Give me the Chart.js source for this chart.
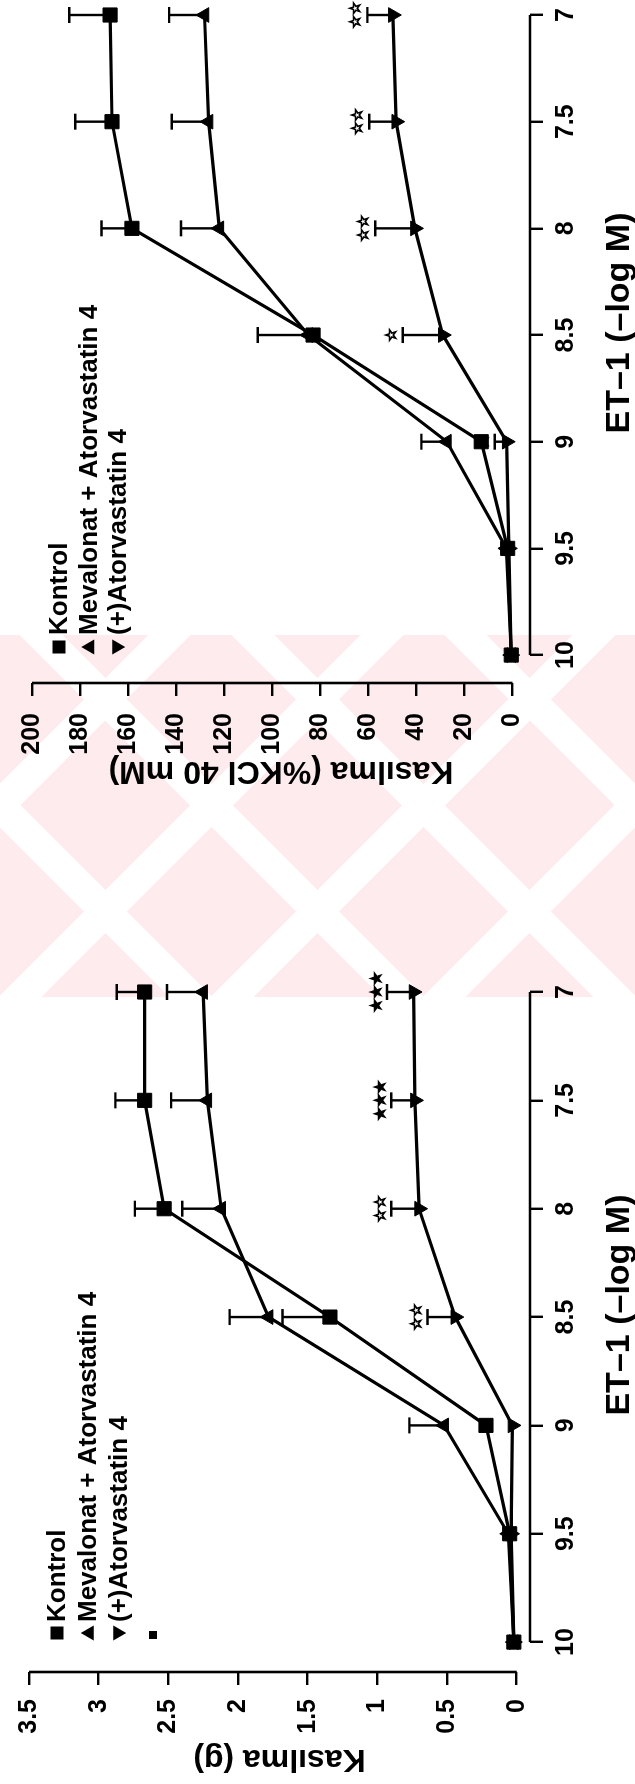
<!DOCTYPE html>
<html>
<head>
<meta charset="utf-8">
<script src="https://cdn.jsdelivr.net/npm/chart.js@4.4.1/dist/chart.umd.min.js"></script>
<style>
html,body{margin:0;padding:0;background:#fff;}
body{width:635px;height:1784px;position:relative;overflow:hidden;}
.wm{position:absolute;left:0;top:635px;width:635px;height:362px;z-index:0;
  background:
   repeating-linear-gradient(45deg, rgba(255,255,255,0) 0 120px, #fff 120px 150px),
   repeating-linear-gradient(-45deg, rgba(255,255,255,0) 0 120px, #fff 120px 150px),
   #fdebee;}
.wrap{position:absolute;left:0;top:0;transform-origin:0 0;z-index:1;}
</style>
</head>
<body>
<div class="wm"></div>
<div class="wrap" style="width:830px;height:635px;transform:translate(0px,830px) rotate(-90deg)"><canvas id="cK" width="830" height="635"></canvas></div>
<div class="wrap" style="width:954px;height:635px;transform:translate(0px,1784px) rotate(-90deg)"><canvas id="cG" width="954" height="635"></canvas></div>
<script>
// ---------- data ----------
const categories = [10, 9.5, 9, 8.5, 8, 7.5, 7];
const categoryTickLabels = ['10', '9.5', '9', '8.5', '8', '7.5', '7'];
const seriesNames = ['Kontrol', 'Mevalonat + Atorvastatin 4', '(+)Atorvastatin 4'];
const xTitle = 'ET–1 (–log M)';

// panel drawn lower on the page: Kasılma (g)
const gTitle = 'Kasılma (g)';
const gTicks = [0, 0.5, 1, 1.5, 2, 2.5, 3, 3.5];
const gKontrol      = [0.02, 0.05, 0.22, 1.34, 2.53, 2.67, 2.67];
const gKontrolSem   = [0, 0, 0, 0.34, 0.21, 0.21, 0.20];
const gMevalonat    = [0.02, 0.06, 0.52, 1.78, 2.12, 2.22, 2.25];
const gMevalonatSem = [0, 0, 0.25, 0.28, 0.28, 0.26, 0.26];
const gAtorva       = [0.02, 0.04, 0.03, 0.44, 0.70, 0.73, 0.74];
const gAtorvaSem    = [0, 0, 0, 0.20, 0.20, 0.17, 0.19];
const gStars        = ['', '', '', '☆☆', '☆☆', '★★★', '★★★'];

// panel drawn upper on the page: Kasılma (%KCl 40 mM)
const kTitle = 'Kasılma (%KCl 40 mM)';
const kTicks = [0, 20, 40, 60, 80, 100, 120, 140, 160, 180, 200];
const kTickLabels = ['0', '20', '40', '60', '80', '100', '120', '140', '160', '180', '200'];
const kKontrol      = [0.5, 2, 13, 83, 158.4, 166.7, 167.5];
const kKontrolSem   = [0, 0, 0, 23, 12.7, 15.3, 17];
const kMevalonat    = [0.5, 2.5, 27.3, 85, 122, 126.5, 128.2];
const kMevalonatSem = [0, 0, 10.6, 0, 16, 15.3, 14.7];
const kAtorva       = [0.5, 1.5, 2.4, 29, 40.6, 48.4, 49.8];
const kAtorvaSem    = [0, 0, 5, 16.7, 16.5, 11.2, 10.6];
const kStars        = ['', '', '★', '☆', '☆☆', '☆☆', '☆☆'];

// ---------- rendering ----------
Chart.defaults.font.family = "'Liberation Sans', Arial, Helvetica, sans-serif";
Chart.defaults.font.weight = 'bold';
Chart.defaults.font.size = 25;
Chart.defaults.color = '#000';

function drawSym(ctx, style, x, y, s) {
  ctx.beginPath();
  if (style === 'rect') {
    ctx.rect(x - s / 2, y - s / 2, s, s);
  } else if (style === 'up') {
    ctx.moveTo(x, y - s * 0.55); ctx.lineTo(x + s * 0.58, y + s * 0.45); ctx.lineTo(x - s * 0.58, y + s * 0.45); ctx.closePath();
  } else {
    ctx.moveTo(x, y + s * 0.55); ctx.lineTo(x + s * 0.58, y - s * 0.45); ctx.lineTo(x - s * 0.58, y - s * 0.45); ctx.closePath();
  }
  ctx.fill();
}

function decorPlugin(p) {
  return {
    id: 'decor',
    beforeDatasetsDraw(chart) {
      const ctx = chart.ctx, xs = chart.scales.x, ys = chart.scales.y;
      ctx.save();
      ctx.strokeStyle = '#000';
      ctx.lineWidth = 2.4;
      p.series.forEach(s => {
        s.values.forEach((v, i) => {
          const sem = s.sem[i];
          if (!sem) return;
          const px = xs.getPixelForValue(categories[i]);
          const y0 = ys.getPixelForValue(v), y1 = ys.getPixelForValue(v + sem);
          ctx.beginPath();
          ctx.moveTo(px, y0); ctx.lineTo(px, y1);
          ctx.moveTo(px - 8, y1); ctx.lineTo(px + 8, y1);
          ctx.stroke();
        });
      });
      ctx.restore();
    },
    afterDraw(chart) {
      const ctx = chart.ctx, xs = chart.scales.x, ys = chart.scales.y, ca = chart.chartArea;
      ctx.save();
      ctx.strokeStyle = '#000';
      ctx.fillStyle = '#000';
      // axis lines (detached, from first to last tick)
      ctx.lineWidth = 2.6;
      ctx.beginPath();
      ctx.moveTo(xs.getPixelForValue(categories[0]), ca.bottom);
      ctx.lineTo(xs.getPixelForValue(categories[categories.length - 1]), ca.bottom);
      ctx.moveTo(ca.left, ys.getPixelForValue(p.ticks[0]));
      ctx.lineTo(ca.left, ys.getPixelForValue(p.ticks[p.ticks.length - 1]));
      ctx.stroke();
      // significance stars above (+)Atorvastatin error bars
      const a = p.series[2];
      ctx.font = "bold 15px 'DejaVu Sans'";
      ctx.textAlign = 'center';
      ctx.textBaseline = 'middle';
      ctx.lineWidth = 1.2;
      p.stars.forEach((st, i) => {
        if (!st) return;
        const px = xs.getPixelForValue(categories[i]);
        const py = ys.getPixelForValue(a.values[i] + a.sem[i]) - p.starGap;
        ctx.fillText(st, px, py);
        ctx.strokeText(st, px, py);
      });
      // x-axis title
      ctx.font = "bold 34px 'Liberation Sans', Arial, sans-serif";
      const cx = (xs.getPixelForValue(categories[0]) + xs.getPixelForValue(categories[categories.length - 1])) / 2 + p.titleShift;
      ctx.fillText(xTitle, cx, ca.bottom + p.titleDrop);
      // legend
      ctx.font = "bold 26px 'Liberation Sans', Arial, sans-serif";
      ctx.textAlign = 'left';
      const styles = ['rect', 'up', 'down'];
      seriesNames.forEach((name, i) => {
        const sx = ca.left + p.legX, sy = ca.top + p.legY + i * p.legStep;
        drawSym(ctx, styles[i], sx, sy, 13);
        ctx.fillText(name, sx + p.legText, sy + 1);
      });
      if (p.extraMark) {
        const sx = ca.left + p.legX - 2, sy = ca.top + p.legY + 3 * p.legStep + 3;
        drawSym(ctx, 'rect', sx, sy, 8);
      }
      ctx.restore();
    }
  };
}

function makeChart(id, p) {
  const styles = [
    {pointStyle: 'rect', pointRadius: 10, rotation: 0},
    {pointStyle: 'triangle', pointRadius: 8.5, rotation: 0},
    {pointStyle: 'triangle', pointRadius: 8.5, rotation: 180}
  ];
  const datasets = p.series.map((s, k) => ({
    label: seriesNames[k],
    data: categories.map((c, i) => ({x: c, y: s.values[i]})),
    borderColor: '#000',
    backgroundColor: '#000',
    borderWidth: 3.2,
    pointStyle: styles[k].pointStyle,
    pointRadius: styles[k].pointRadius,
    pointRotation: styles[k].rotation,
    pointBackgroundColor: '#000',
    pointBorderColor: '#000',
    pointBorderWidth: 1,
    tension: 0,
    fill: false,
    clip: false
  }));
  return new Chart(document.getElementById(id), {
    type: 'line',
    data: {datasets},
    options: {
      responsive: false,
      animation: false,
      devicePixelRatio: 1,
      layout: {padding: {top: p.padTop, right: p.padRight, left: 0, bottom: 0}},
      plugins: {legend: {display: false}, tooltip: {enabled: false}},
      scales: {
        x: {
          type: 'linear',
          reverse: true,
          min: 7,
          max: p.xMax,
          afterBuildTicks: sc => { sc.ticks = categories.map(v => ({value: v})); },
          afterFit: sc => { sc.height = p.xAxisHeight; },
          ticks: {
            autoSkip: false, maxRotation: 0, minRotation: 0, padding: p.xTickPad,
            font: {size: 25, weight: 'bold'},
            callback: v => categoryTickLabels[categories.indexOf(v)]
          },
          grid: {display: true, drawOnChartArea: false, drawTicks: true, tickLength: 13, color: '#000', lineWidth: 2.4},
          border: {display: false}
        },
        y: {
          type: 'linear',
          min: p.yMin,
          max: p.ticks[p.ticks.length - 1],
          afterBuildTicks: sc => { sc.ticks = p.ticks.map(v => ({value: v})); },
          afterFit: sc => { sc.width = p.yAxisWidth; },
          ticks: {
            padding: p.yTickPad,
            font: {size: 25, weight: 'bold'},
            callback: v => p.tickLabels[p.ticks.indexOf(v)]
          },
          grid: {display: true, drawOnChartArea: false, drawTicks: true, tickLength: 13, color: '#000', lineWidth: 2.4},
          border: {display: false},
          title: {display: true, text: p.title, font: {size: 32, weight: 'bold'}, padding: {top: p.yTitlePad, bottom: 0}}
        }
      }
    },
    plugins: [decorPlugin(p)]
  });
}

makeChart('cK', {
  series: [
    {values: kKontrol, sem: kKontrolSem},
    {values: kMevalonat, sem: kMevalonatSem},
    {values: kAtorva, sem: kAtorvaSem}
  ],
  ticks: kTicks, tickLabels: kTickLabels, stars: kStars, title: kTitle,
  xMax: 10.131, yMin: -7.3,
  padTop: 22, padRight: 15, xAxisHeight: 105, yAxisWidth: 147,
  xTickPad: 8, yTickPad: 17, yTitlePad: 40,
  starGap: 11, titleShift: 12, titleDrop: 90,
  legX: 36, legY: 27, legStep: 29.5, legText: 12, extraMark: false
});

makeChart('cG', {
  series: [
    {values: gKontrol, sem: gKontrolSem},
    {values: gMevalonat, sem: gMevalonatSem},
    {values: gAtorva, sem: gAtorvaSem}
  ],
  ticks: gTicks, tickLabels: gTicks.map(String), stars: gStars, title: gTitle,
  xMax: 10.138, yMin: -0.096,
  padTop: 25, padRight: 162, xAxisHeight: 105, yAxisWidth: 112,
  xTickPad: 8, yTickPad: 14, yTitlePad: 6,
  starGap: 10, titleShift: 12, titleDrop: 90,
  legX: 39, legY: 28, legStep: 31, legText: 11, extraMark: true
});
</script>
</body>
</html>
